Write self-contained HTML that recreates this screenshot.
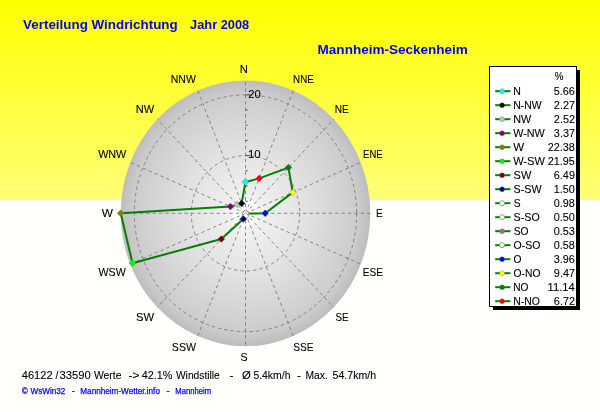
<!DOCTYPE html>
<html><head><meta charset="utf-8"><title>Verteilung Windrichtung</title>
<style>
html,body{margin:0;padding:0;background:#FFFFFC;}
body{width:600px;height:412px;overflow:hidden;position:relative;font-family:"Liberation Sans",sans-serif;}
#top{position:absolute;left:0;top:0;width:600px;height:200px;background:linear-gradient(to bottom,#FFFF00 0%,#FFFF78 100%);}
svg{position:absolute;left:0;top:0;}
text{font-family:"Liberation Sans",sans-serif;}
text.k{stroke:#000;stroke-width:0.1px;}
</style></head><body>
<div id="top"></div>
<svg width="600" height="412" viewBox="0 0 600 412">
<defs>
<radialGradient id="g" cx="50%" cy="50%" r="50%">
<stop offset="0" stop-color="#FFFFFF"/>
<stop offset="0.095" stop-color="#FFFFFF"/>
<stop offset="0.115" stop-color="#F1F1F1"/>
<stop offset="0.45" stop-color="#E3E3E3"/>
<stop offset="0.9" stop-color="#CCCCCC"/>
<stop offset="1" stop-color="#BDBDBD"/>
</radialGradient>
</defs>

<ellipse cx="245.5" cy="213.3" rx="124.8" ry="132.9" fill="url(#g)"/>
<g stroke="#767676" stroke-width="0.85" fill="none" stroke-dasharray="3.4 3">
<line x1="245.5" y1="213.3" x2="245.5" y2="80.4"/>
<line x1="245.5" y1="213.3" x2="293.3" y2="90.5"/>
<line x1="245.5" y1="213.3" x2="333.7" y2="119.3"/>
<line x1="245.5" y1="213.3" x2="360.8" y2="162.4"/>
<line x1="245.5" y1="213.3" x2="370.3" y2="213.3"/>
<line x1="245.5" y1="213.3" x2="360.8" y2="264.2"/>
<line x1="245.5" y1="213.3" x2="333.7" y2="307.3"/>
<line x1="245.5" y1="213.3" x2="293.3" y2="336.1"/>
<line x1="245.5" y1="213.3" x2="245.5" y2="346.2"/>
<line x1="245.5" y1="213.3" x2="197.7" y2="336.1"/>
<line x1="245.5" y1="213.3" x2="157.3" y2="307.3"/>
<line x1="245.5" y1="213.3" x2="130.2" y2="264.2"/>
<line x1="245.5" y1="213.3" x2="120.7" y2="213.3"/>
<line x1="245.5" y1="213.3" x2="130.2" y2="162.4"/>
<line x1="245.5" y1="213.3" x2="157.3" y2="119.3"/>
<line x1="245.5" y1="213.3" x2="197.7" y2="90.5"/>
<ellipse cx="245.5" cy="213.3" rx="54.2" ry="57.7"/>
<ellipse cx="245.5" cy="213.3" rx="111.2" ry="118.4"/>
</g>
<g stroke="#505050" stroke-width="1">
<line x1="245.5" y1="201.2" x2="247.7" y2="201.2"/>
<line x1="245.5" y1="186.0" x2="247.7" y2="186.0"/>
<line x1="245.5" y1="170.8" x2="247.7" y2="170.8"/>
<line x1="245.5" y1="155.6" x2="250.0" y2="155.6"/>
<line x1="245.5" y1="140.4" x2="247.7" y2="140.4"/>
<line x1="245.5" y1="125.2" x2="247.7" y2="125.2"/>
<line x1="245.5" y1="110.0" x2="247.7" y2="110.0"/>
<line x1="245.5" y1="94.9" x2="250.0" y2="94.9"/>
</g>
<text x="248.33" y="97.8" font-size="11" class="k" fill="#000" textLength="12.50" lengthAdjust="spacingAndGlyphs">20</text>
<text x="247.93" y="158.4" font-size="11" class="k" fill="#000" textLength="12.72" lengthAdjust="spacingAndGlyphs">10</text>
<polygon fill="none" stroke="#008000" stroke-width="2" stroke-linejoin="round" points="245.5,182.0 259.1,178.4 288.4,167.6 292.8,192.4 265.2,213.3 245.9,213.5 245.6,213.4 245.5,213.3 245.5,216.2 243.3,218.9 221.3,239.0 132.5,263.2 120.7,213.3 230.4,206.6 237.4,204.6 241.6,203.4"/>
<path d="M242.0 182.0L245.5 178.5L249.0 182.0L245.5 185.5Z" fill="#00FFFF" stroke="rgba(110,110,110,0.55)" stroke-width="0.7"/>
<path d="M255.6 178.4L259.1 174.9L262.6 178.4L259.1 181.9Z" fill="#FF0000" stroke="rgba(110,110,110,0.55)" stroke-width="0.7"/>
<path d="M284.9 167.6L288.4 164.1L291.9 167.6L288.4 171.1Z" fill="#008000" stroke="rgba(110,110,110,0.55)" stroke-width="0.7"/>
<path d="M289.3 192.4L292.8 188.9L296.3 192.4L292.8 195.9Z" fill="#FFFF00" stroke="rgba(110,110,110,0.55)" stroke-width="0.7"/>
<path d="M261.7 213.3L265.2 209.8L268.7 213.3L265.2 216.8Z" fill="#0000FF" stroke="rgba(110,110,110,0.55)" stroke-width="0.7"/>
<path d="M242.4 213.5L245.9 210.0L249.4 213.5L245.9 217.0Z" fill="#FFFFFF" stroke="#707070" stroke-width="0.7"/>
<path d="M242.1 213.4L245.6 209.9L249.1 213.4L245.6 216.9Z" fill="#808080" stroke="rgba(110,110,110,0.55)" stroke-width="0.7"/>
<path d="M242.0 213.3L245.5 209.8L249.0 213.3L245.5 216.8Z" fill="#FFFFFF" stroke="#707070" stroke-width="0.7"/>
<path d="M242.0 216.2L245.5 212.7L249.0 216.2L245.5 219.7Z" fill="#FFFFFF" stroke="#707070" stroke-width="0.7"/>
<path d="M239.8 218.9L243.3 215.4L246.8 218.9L243.3 222.4Z" fill="#000080" stroke="rgba(110,110,110,0.55)" stroke-width="0.7"/>
<path d="M217.8 239.0L221.3 235.5L224.8 239.0L221.3 242.5Z" fill="#800000" stroke="rgba(110,110,110,0.55)" stroke-width="0.7"/>
<path d="M129.0 263.2L132.5 259.7L136.0 263.2L132.5 266.7Z" fill="#00FF00" stroke="rgba(110,110,110,0.55)" stroke-width="0.7"/>
<path d="M117.2 213.3L120.7 209.8L124.2 213.3L120.7 216.8Z" fill="#808000" stroke="rgba(110,110,110,0.55)" stroke-width="0.7"/>
<path d="M226.9 206.6L230.4 203.1L233.9 206.6L230.4 210.1Z" fill="#800080" stroke="rgba(110,110,110,0.55)" stroke-width="0.7"/>
<path d="M233.9 204.6L237.4 201.1L240.9 204.6L237.4 208.1Z" fill="#C0C0C0" stroke="rgba(110,110,110,0.55)" stroke-width="0.7"/>
<path d="M238.1 203.4L241.6 199.9L245.1 203.4L241.6 206.9Z" fill="#000000" stroke="rgba(110,110,110,0.55)" stroke-width="0.7"/>
<text x="239.77" y="72.6" font-size="11" class="k" fill="#000" textLength="8.14" lengthAdjust="spacingAndGlyphs">N</text>
<text x="293.09" y="82.8" font-size="11" class="k" fill="#000" textLength="20.73" lengthAdjust="spacingAndGlyphs">NNE</text>
<text x="334.77" y="113" font-size="11" class="k" fill="#000" textLength="14.07" lengthAdjust="spacingAndGlyphs">NE</text>
<text x="363.12" y="158" font-size="11" class="k" fill="#000" textLength="19.48" lengthAdjust="spacingAndGlyphs">ENE</text>
<text x="375.88" y="217.1" font-size="11" class="k" fill="#000" textLength="6.65" lengthAdjust="spacingAndGlyphs">E</text>
<text x="362.67" y="276.1" font-size="11" class="k" fill="#000" textLength="20.27" lengthAdjust="spacingAndGlyphs">ESE</text>
<text x="335.46" y="320.8" font-size="11" class="k" fill="#000" textLength="12.96" lengthAdjust="spacingAndGlyphs">SE</text>
<text x="293.14" y="350.7" font-size="11" class="k" fill="#000" textLength="20.30" lengthAdjust="spacingAndGlyphs">SSE</text>
<text x="240.62" y="360.8" font-size="11" class="k" fill="#000" textLength="7.07" lengthAdjust="spacingAndGlyphs">S</text>
<text x="171.82" y="350.7" font-size="11" class="k" fill="#000" textLength="24.22" lengthAdjust="spacingAndGlyphs">SSW</text>
<text x="136.09" y="320.8" font-size="11" class="k" fill="#000" textLength="18.05" lengthAdjust="spacingAndGlyphs">SW</text>
<text x="98.45" y="275.9" font-size="11" class="k" fill="#000" textLength="27.28" lengthAdjust="spacingAndGlyphs">WSW</text>
<text x="101.89" y="217.1" font-size="11" class="k" fill="#000" textLength="11.21" lengthAdjust="spacingAndGlyphs">W</text>
<text x="98.15" y="158" font-size="11" class="k" fill="#000" textLength="28.18" lengthAdjust="spacingAndGlyphs">WNW</text>
<text x="135.69" y="113" font-size="11" class="k" fill="#000" textLength="18.45" lengthAdjust="spacingAndGlyphs">NW</text>
<text x="170.74" y="82.8" font-size="11" class="k" fill="#000" textLength="25.10" lengthAdjust="spacingAndGlyphs">NNW</text>
<text x="23.11" y="29.2" font-size="13.33" font-weight="bold" fill="#0000FA" textLength="154.58" lengthAdjust="spacingAndGlyphs">Verteilung Windrichtung</text>
<text x="190.11" y="29.2" font-size="13.33" font-weight="bold" fill="#0000FA" textLength="59.09" lengthAdjust="spacingAndGlyphs">Jahr 2008</text>
<text x="317.60" y="53.7" font-size="13.33" font-weight="bold" fill="#0000FA" textLength="150.24" lengthAdjust="spacingAndGlyphs">Mannheim-Seckenheim</text>
<text x="21.75" y="378.6" font-size="11" class="k" fill="#000" textLength="30.81" lengthAdjust="spacingAndGlyphs">46122</text>
<text x="55.40" y="378.6" font-size="11" class="k" fill="#000" textLength="2.80" lengthAdjust="spacingAndGlyphs">/</text>
<text x="59.57" y="378.6" font-size="11" class="k" fill="#000" textLength="31.27" lengthAdjust="spacingAndGlyphs">33590</text>
<text x="93.95" y="378.6" font-size="11" class="k" fill="#000" textLength="27.50" lengthAdjust="spacingAndGlyphs">Werte</text>
<text x="128.58" y="378.6" font-size="11" class="k" fill="#000" textLength="10.89" lengthAdjust="spacingAndGlyphs">-&gt;</text>
<text x="141.75" y="378.6" font-size="11" class="k" fill="#000" textLength="30.63" lengthAdjust="spacingAndGlyphs">42.1%</text>
<text x="175.95" y="378.6" font-size="11" class="k" fill="#000" textLength="43.90" lengthAdjust="spacingAndGlyphs">Windstille</text>
<text x="229.42" y="378.6" font-size="11" class="k" fill="#000" textLength="3.96" lengthAdjust="spacingAndGlyphs">-</text>
<text x="241.91" y="378.6" font-size="11" class="k" fill="#000" textLength="8.77" lengthAdjust="spacingAndGlyphs">Ø</text>
<text x="253.38" y="378.6" font-size="11" class="k" fill="#000" textLength="37.09" lengthAdjust="spacingAndGlyphs">5.4km/h</text>
<text x="297.02" y="378.6" font-size="11" class="k" fill="#000" textLength="3.96" lengthAdjust="spacingAndGlyphs">-</text>
<text x="305.45" y="378.6" font-size="11" class="k" fill="#000" textLength="22.39" lengthAdjust="spacingAndGlyphs">Max.</text>
<text x="332.58" y="378.6" font-size="11" class="k" fill="#000" textLength="43.61" lengthAdjust="spacingAndGlyphs">54.7km/h</text>
<text x="21.88" y="393.8" font-size="8.4" fill="#0000FF" textLength="5.74" lengthAdjust="spacingAndGlyphs" stroke="#0000FF" stroke-width="0.25">©</text>
<text x="30.46" y="393.8" font-size="8.4" fill="#0000FF" textLength="34.85" lengthAdjust="spacingAndGlyphs" stroke="#0000FF" stroke-width="0.25">WsWin32</text>
<text x="71.76" y="393.8" font-size="8.4" fill="#0000FF" textLength="3.27" lengthAdjust="spacingAndGlyphs" stroke="#0000FF" stroke-width="0.25">-</text>
<text x="80.34" y="393.8" font-size="8.4" fill="#0000FF" textLength="79.60" lengthAdjust="spacingAndGlyphs" stroke="#0000FF" stroke-width="0.25">Mannheim-Wetter.info</text>
<text x="166.56" y="393.8" font-size="8.4" fill="#0000FF" textLength="3.27" lengthAdjust="spacingAndGlyphs" stroke="#0000FF" stroke-width="0.25">-</text>
<text x="175.37" y="393.8" font-size="8.4" fill="#0000FF" textLength="35.73" lengthAdjust="spacingAndGlyphs" stroke="#0000FF" stroke-width="0.25">Mannheim</text>
<rect x="493" y="70" width="87" height="240" fill="#000"/>
<rect x="489.5" y="66.5" width="87" height="240" fill="#fff" stroke="#000" stroke-width="1"/>
<text x="554.85" y="80.2" font-size="11" class="k" fill="#000" textLength="8.70" lengthAdjust="spacingAndGlyphs">%</text>
<line x1="495.2" y1="91.2" x2="510.4" y2="91.2" stroke="#008000" stroke-width="2"/>
<circle cx="502.1" cy="91.2" r="2.5" fill="#00FFFF" stroke="rgba(110,110,110,0.55)" stroke-width="0.6"/>
<text x="513.23" y="94.9" font-size="11" class="k" fill="#000" textLength="7.63" lengthAdjust="spacingAndGlyphs">N</text>
<text x="553.79" y="94.9" font-size="11" class="k" fill="#000" textLength="21.09" lengthAdjust="spacingAndGlyphs">5.66</text>
<line x1="495.2" y1="105.2" x2="510.4" y2="105.2" stroke="#008000" stroke-width="2"/>
<circle cx="502.1" cy="105.2" r="2.5" fill="#000000" stroke="rgba(110,110,110,0.55)" stroke-width="0.6"/>
<text x="513.24" y="108.9" font-size="11" class="k" fill="#000" textLength="28.39" lengthAdjust="spacingAndGlyphs">N-NW</text>
<text x="553.86" y="108.9" font-size="11" class="k" fill="#000" textLength="21.09" lengthAdjust="spacingAndGlyphs">2.27</text>
<line x1="495.2" y1="119.2" x2="510.4" y2="119.2" stroke="#008000" stroke-width="2"/>
<circle cx="502.1" cy="119.2" r="2.5" fill="#C0C0C0" stroke="rgba(110,110,110,0.55)" stroke-width="0.6"/>
<text x="513.21" y="122.9" font-size="11" class="k" fill="#000" textLength="18.02" lengthAdjust="spacingAndGlyphs">NW</text>
<text x="553.86" y="122.9" font-size="11" class="k" fill="#000" textLength="21.09" lengthAdjust="spacingAndGlyphs">2.52</text>
<line x1="495.2" y1="133.2" x2="510.4" y2="133.2" stroke="#008000" stroke-width="2"/>
<circle cx="502.1" cy="133.2" r="2.5" fill="#800080" stroke="rgba(110,110,110,0.55)" stroke-width="0.6"/>
<text x="513.15" y="136.9" font-size="11" class="k" fill="#000" textLength="31.68" lengthAdjust="spacingAndGlyphs">W-NW</text>
<text x="553.86" y="136.9" font-size="11" class="k" fill="#000" textLength="21.09" lengthAdjust="spacingAndGlyphs">3.37</text>
<line x1="495.2" y1="147.2" x2="510.4" y2="147.2" stroke="#008000" stroke-width="2"/>
<circle cx="502.1" cy="147.2" r="2.5" fill="#808000" stroke="rgba(110,110,110,0.55)" stroke-width="0.6"/>
<text x="513.15" y="150.9" font-size="11" class="k" fill="#000" textLength="10.89" lengthAdjust="spacingAndGlyphs">W</text>
<text x="547.76" y="150.9" font-size="11" class="k" fill="#000" textLength="27.11" lengthAdjust="spacingAndGlyphs">22.38</text>
<line x1="495.2" y1="161.2" x2="510.4" y2="161.2" stroke="#008000" stroke-width="2"/>
<circle cx="502.1" cy="161.2" r="2.5" fill="#00FF00" stroke="rgba(110,110,110,0.55)" stroke-width="0.6"/>
<text x="513.15" y="164.9" font-size="11" class="k" fill="#000" textLength="31.69" lengthAdjust="spacingAndGlyphs">W-SW</text>
<text x="547.74" y="164.9" font-size="11" class="k" fill="#000" textLength="27.11" lengthAdjust="spacingAndGlyphs">21.95</text>
<line x1="495.2" y1="175.2" x2="510.4" y2="175.2" stroke="#008000" stroke-width="2"/>
<circle cx="502.1" cy="175.2" r="2.5" fill="#800000" stroke="rgba(110,110,110,0.55)" stroke-width="0.6"/>
<text x="513.60" y="178.9" font-size="11" class="k" fill="#000" textLength="17.63" lengthAdjust="spacingAndGlyphs">SW</text>
<text x="553.83" y="178.9" font-size="11" class="k" fill="#000" textLength="21.09" lengthAdjust="spacingAndGlyphs">6.49</text>
<line x1="495.2" y1="189.2" x2="510.4" y2="189.2" stroke="#008000" stroke-width="2"/>
<circle cx="502.1" cy="189.2" r="2.5" fill="#000080" stroke="rgba(110,110,110,0.55)" stroke-width="0.6"/>
<text x="513.61" y="192.9" font-size="11" class="k" fill="#000" textLength="28.02" lengthAdjust="spacingAndGlyphs">S-SW</text>
<text x="553.74" y="192.9" font-size="11" class="k" fill="#000" textLength="21.09" lengthAdjust="spacingAndGlyphs">1.50</text>
<line x1="495.2" y1="203.2" x2="510.4" y2="203.2" stroke="#008000" stroke-width="2"/>
<circle cx="502.1" cy="203.2" r="2.5" fill="#FFFFFF" stroke="#707070" stroke-width="0.7"/>
<text x="513.63" y="206.9" font-size="11" class="k" fill="#000" textLength="6.84" lengthAdjust="spacingAndGlyphs">S</text>
<text x="553.78" y="206.9" font-size="11" class="k" fill="#000" textLength="21.09" lengthAdjust="spacingAndGlyphs">0.98</text>
<line x1="495.2" y1="217.2" x2="510.4" y2="217.2" stroke="#008000" stroke-width="2"/>
<circle cx="502.1" cy="217.2" r="2.5" fill="#FFFFFF" stroke="#707070" stroke-width="0.7"/>
<text x="513.62" y="220.9" font-size="11" class="k" fill="#000" textLength="26.10" lengthAdjust="spacingAndGlyphs">S-SO</text>
<text x="553.74" y="220.9" font-size="11" class="k" fill="#000" textLength="21.09" lengthAdjust="spacingAndGlyphs">0.50</text>
<line x1="495.2" y1="231.2" x2="510.4" y2="231.2" stroke="#008000" stroke-width="2"/>
<circle cx="502.1" cy="231.2" r="2.5" fill="#808080" stroke="rgba(110,110,110,0.55)" stroke-width="0.6"/>
<text x="513.63" y="234.9" font-size="11" class="k" fill="#000" textLength="14.86" lengthAdjust="spacingAndGlyphs">SO</text>
<text x="553.79" y="234.9" font-size="11" class="k" fill="#000" textLength="21.09" lengthAdjust="spacingAndGlyphs">0.53</text>
<line x1="495.2" y1="245.2" x2="510.4" y2="245.2" stroke="#008000" stroke-width="2"/>
<circle cx="502.1" cy="245.2" r="2.5" fill="#FFFFFF" stroke="#707070" stroke-width="0.7"/>
<text x="513.60" y="248.9" font-size="11" class="k" fill="#000" textLength="26.90" lengthAdjust="spacingAndGlyphs">O-SO</text>
<text x="553.78" y="248.9" font-size="11" class="k" fill="#000" textLength="21.09" lengthAdjust="spacingAndGlyphs">0.58</text>
<line x1="495.2" y1="259.2" x2="510.4" y2="259.2" stroke="#008000" stroke-width="2"/>
<circle cx="502.1" cy="259.2" r="2.5" fill="#0000FF" stroke="rgba(110,110,110,0.55)" stroke-width="0.6"/>
<text x="513.61" y="262.9" font-size="11" class="k" fill="#000" textLength="7.98" lengthAdjust="spacingAndGlyphs">O</text>
<text x="553.79" y="262.9" font-size="11" class="k" fill="#000" textLength="21.09" lengthAdjust="spacingAndGlyphs">3.96</text>
<line x1="495.2" y1="273.2" x2="510.4" y2="273.2" stroke="#008000" stroke-width="2"/>
<circle cx="502.1" cy="273.2" r="2.5" fill="#FFFF00" stroke="rgba(110,110,110,0.55)" stroke-width="0.6"/>
<text x="513.61" y="276.9" font-size="11" class="k" fill="#000" textLength="26.88" lengthAdjust="spacingAndGlyphs">O-NO</text>
<text x="553.86" y="276.9" font-size="11" class="k" fill="#000" textLength="21.09" lengthAdjust="spacingAndGlyphs">9.47</text>
<line x1="495.2" y1="287.2" x2="510.4" y2="287.2" stroke="#008000" stroke-width="2"/>
<circle cx="502.1" cy="287.2" r="2.5" fill="#008000" stroke="rgba(110,110,110,0.55)" stroke-width="0.6"/>
<text x="513.27" y="290.9" font-size="11" class="k" fill="#000" textLength="15.22" lengthAdjust="spacingAndGlyphs">NO</text>
<text x="547.60" y="290.9" font-size="11" class="k" fill="#000" textLength="27.11" lengthAdjust="spacingAndGlyphs">11.14</text>
<line x1="495.2" y1="301.2" x2="510.4" y2="301.2" stroke="#008000" stroke-width="2"/>
<circle cx="502.1" cy="301.2" r="2.5" fill="#FF0000" stroke="rgba(110,110,110,0.55)" stroke-width="0.6"/>
<text x="513.24" y="304.9" font-size="11" class="k" fill="#000" textLength="26.65" lengthAdjust="spacingAndGlyphs">N-NO</text>
<text x="553.86" y="304.9" font-size="11" class="k" fill="#000" textLength="21.09" lengthAdjust="spacingAndGlyphs">6.72</text>
</svg></body></html>
